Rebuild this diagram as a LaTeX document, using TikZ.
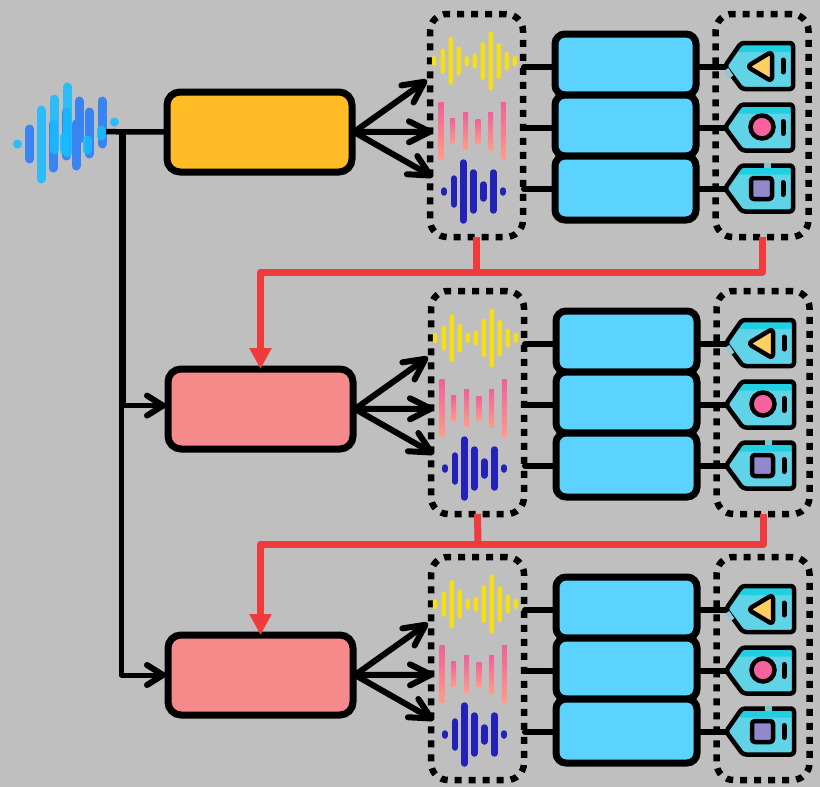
\documentclass[tikz,border=0pt]{standalone}
\usepackage{tikz}
\usepackage{xcolor}
\usetikzlibrary{arrows.meta}
\definecolor{backc}{HTML}{BFBFBF}
\definecolor{amberc}{HTML}{FFBC25}
\definecolor{salmonc}{HTML}{F68A8A}
\definecolor{skyc}{HTML}{5BD2FF}
\definecolor{redc}{HTML}{EF3B3B}
\definecolor{tagc}{HTML}{60D3E6}
\definecolor{bandc}{HTML}{20D0E2}
\definecolor{yellowc}{HTML}{F8E010}
\definecolor{indigoc}{HTML}{2222B8}
\definecolor{pinktop}{HTML}{F0609A}
\definecolor{pinkbot}{HTML}{FF9C88}
\definecolor{roundc}{HTML}{F7629C}
\definecolor{conec}{HTML}{FFD060}
\definecolor{squarec}{HTML}{9488CC}
\definecolor{darkbar}{HTML}{3A84F2}
\definecolor{lightbar}{HTML}{18BCFF}
\begin{document}
\begin{tikzpicture}[x=1pt,y=-1pt]%
  \tikzstyle{boxm}=[rectangle,draw=black,line width=7pt,rounded corners=13pt,outer sep=0,inner sep=0,minimum width=185pt,minimum height=80pt]
  \tikzstyle{boxc}=[rectangle,draw=black,fill=skyc,line width=7pt,rounded corners=10pt,outer sep=0,inner sep=0,minimum width=141pt]
  \tikzstyle{boxd}=[rectangle,draw=black,line width=6.5pt,dash pattern=on 7pt off 7pt,rounded corners=17pt,outer sep=0,inner sep=0,minimum width=93pt,minimum height=223pt]
  \tikzstyle{link}=[line width=6pt,line cap=round]
  \tikzstyle{feed}=[draw=black,line width=5pt,line cap=round,line join=round,-{Straight Barb[round,line width=6pt,length=16pt 0 0,width=20pt 0 0]}]
  \tikzstyle{fan}=[draw=black,line width=6pt,line cap=round,-{Straight Barb[round,length=21pt 0 0,width=21pt 0 0]}]
  \tikzstyle{back}=[draw=redc,line width=7pt,line join=round]
  \fill[backc] (0,0) rectangle (820,787);
  \useasboundingbox (0,0) rectangle (820,787);
  % spoken input
  \foreach \bx/\ba/\bb in {29.5/129/159,53/124/168,66/112/156,76/124/166,79/101/139,89/112/154,102/101/144}
    \draw[line width=9pt,line cap=round,color=darkbar] (\bx,\ba) -- (\bx,\bb);
  \foreach \bx/\ba/\bb in {17.5/144/144.1,41/110/179,54/99/150,67/87/153,64/137/150,87/140/150,101/130/136,114/122/122.1}
    \draw[line width=9pt,line cap=round,color=lightbar,opacity=.88] (\bx,\ba) -- (\bx,\bb);
  \coordinate (source) at (106,131.7);
  \coordinate (trunk) at (122.4,131.7);
  \foreach \n/\dx/\dy/\col in {1/0/0/amberc,2/1/277/salmonc,3/1/543/salmonc}{
    \begin{scope}[shift={(\dx,\dy)}]
      \node(model\n)[boxm,fill=\col] at (259.5,132) {};
      \node(wave\n)[boxd] at (476.5,125.5) {};
      \node(tags\n)[boxd] at (762,125.5) {};
      \coordinate (fan\n1) at (427,80);
      \coordinate (fan\n2) at (433,131.7);
      \coordinate (fan\n3) at (433,177);
      \foreach \k in {1,2,3}
        \draw[fan] (model\n.east) ++(2,0) -- (fan\n\k);
      \foreach \wx/\wh in {434/5,442.7/12.5,450.7/24,458.7/14.5,466.7/5,474.7/7.5,482.7/19,490.7/29.5,498.7/18,506.7/9.5,514.7/5}
        \fill[yellowc,rounded corners=1.5pt] (\wx-2.2,61-\wh) rectangle (\wx+2.2,61+\wh);
      \foreach \wx/\wh in {441/28.3,452.7/12.5,465.7/18.3,478/12,490.7/19,503.3/28.3}
        \shade[top color=pinktop,bottom color=pinkbot] (\wx-2.5,131-\wh) rectangle (\wx+2.5,131+\wh);
      \foreach \wx/\wh in {444/1,454/13,463.3/29,473.3/19,483.3/7,493.3/19,503/1}
        \draw[indigoc,line width=6.5pt,line cap=round] (\wx,191.5-\wh) -- (\wx,191.5+\wh);
      \foreach \k/\ymid/\yh/\yl in {1/64.5/61/67,2/125.5/61/128,3/188/64/189}{
        \node(coder\n\k)[boxc,minimum height=\yh pt] at (625.5,\ymid) {};
        \coordinate (wav\n\k) at (524,\yl);
        \coordinate (tag\n\k) at (727,\yl);
        \draw[link] (wav\n\k) -- (coder\n\k.west |- wav\n\k);
        \draw[link] (coder\n\k.east |- tag\n\k) -- (tag\n\k);
      }
      \foreach \yt in {66,127.5,188.5}{
        \begin{scope}[shift={(0,\yt)}]
          \fill[tagc,rounded corners=3pt] (725,0) -- (741,-23) -- (793,-23) -- (793,23) -- (742,23) -- cycle;
          \fill[bandc] (736,-16) -- (741,-23) -- (793,-23) -- (793,-14) -- (737,-14) -- cycle;
          \draw[line width=4.5pt,rounded corners=3pt,line join=round] (725,0) -- (741,-23) -- (793,-23) -- (793,23) -- (742,23) -- cycle;
          \draw[line width=5pt,line cap=round] (783,-6) -- (783,6);
        \end{scope}
      }
      \draw[backc!55!tagc,line width=5.5pt] (726,69.5) -- (731,77);
      \draw[backc!55!bandc,line width=5pt] (764,165.5) -- (771,165.5);
      \draw[line width=4.5pt,fill=conec,rounded corners=4pt,line join=round] (747,66.5) -- (772,51.5) -- (772,81.5) -- cycle;
      \draw[line width=4.5pt,fill=roundc] (762,127) circle (11.5);
      \draw[line width=4.5pt,fill=squarec,rounded corners=3pt] (751,178) rectangle (772,199);
    \end{scope}
  }
  \draw[line width=5.5pt] (source) -- (model1.west);
  \coordinate (trunk2) at (122.4,405.6);
  \coordinate (turn2) at (121.6,405.6);
  \draw[line width=6.6pt] (trunk) -- (trunk2);
  \draw[feed,shorten >=2pt] (turn2) -- (model2.west |- turn2);
  \draw[feed,shorten >=2pt] (turn2) |- (model3.west);
  \coordinate (over1) at (476.5,272);
  \coordinate (over2) at (478,544);
  \draw[back] (wave1.south) -- (over1);
  \draw[back,-{Triangle[length=21pt 0 0,width=21pt 0 0]}] (tags1.south) |- (over1) -| (model2.north);
  \draw[back] (wave2.south) -- (over2);
  \draw[back,-{Triangle[length=21pt 0 0,width=21pt 0 0]}] (tags2.south) |- (over2) -| (model3.north);
\end{tikzpicture}
\end{document}
